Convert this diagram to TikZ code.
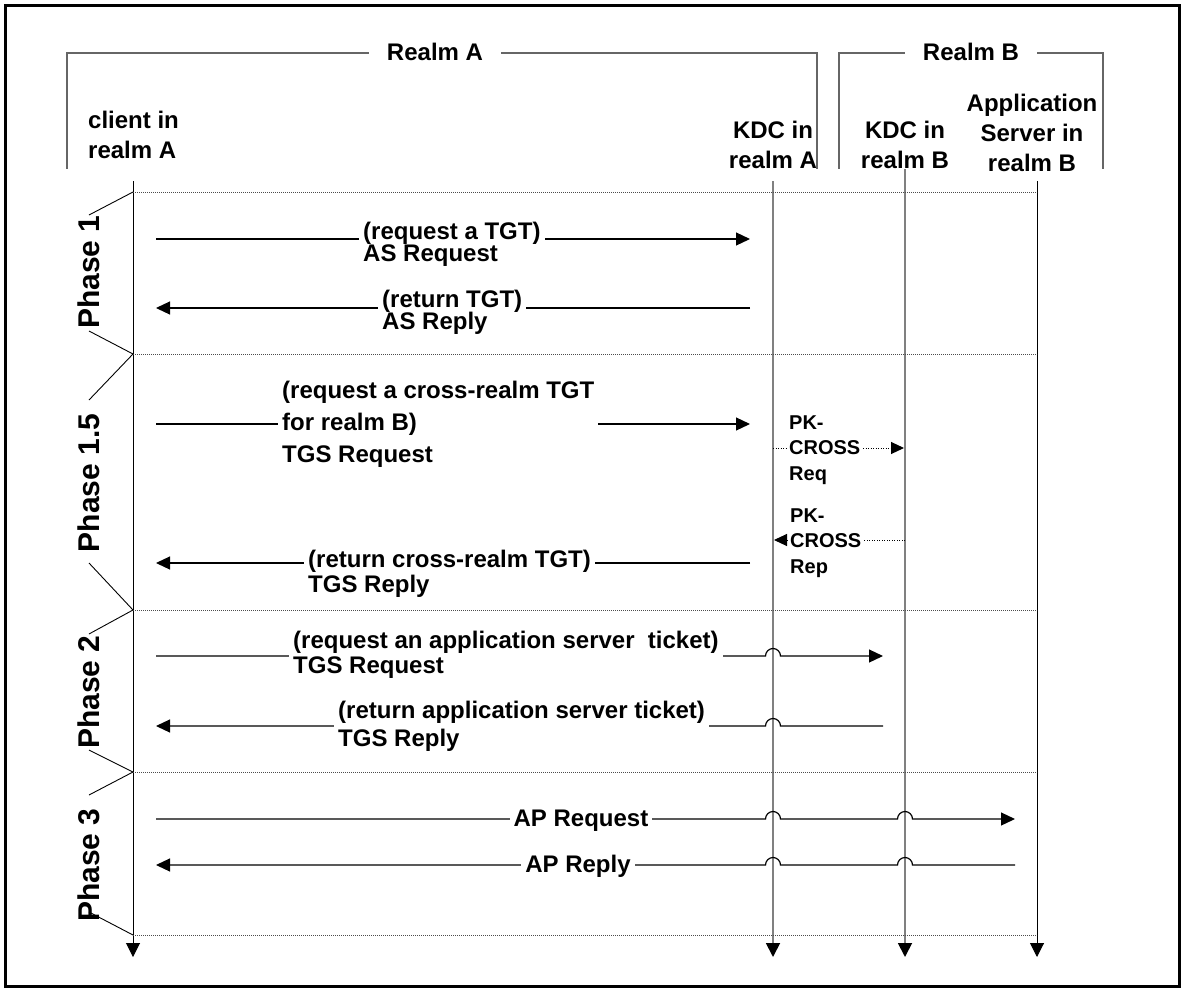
\documentclass[tikz,border=0pt]{standalone}
\usepackage{fontspec}
\setmainfont{Liberation Sans}
\usetikzlibrary{arrows.meta,calc}
\newcommand\strA{\vrule width 0pt height 20bp depth 6bp\relax}
\newcommand\strB{\vrule width 0pt height 17bp depth 5bp\relax}
\newcommand\tightls{\lineskiplimit=-100pt\relax}
\begin{document}
\begin{tikzpicture}[x=1bp,y=-1bp,
  border/.style={line width=2.5bp},
  realmline/.style={black!60, line width=1.3bp},
  realmlbl/.style={font={\fontsize{24bp}{30bp}\selectfont\bfseries}, inner xsep=18bp, inner ysep=0pt, anchor=center},
  hdr/.style={font={\fontsize{24bp}{30bp}\selectfont\bfseries\tightls}, inner sep=0pt},
  lifeC/.style={line width=1bp, -{Triangle[length=14bp,width=14bp,color=black]}},
  lifeK/.style={draw=black!50, line width=1.8bp, -{Triangle[length=14bp,width=14bp,color=black]}},
  sep/.style={black!70, line width=0.8bp, dash pattern=on 1bp off 1bp},
  brk/.style={line width=0.9bp},
  phase/.style={font={\fontsize{30bp}{30bp}\selectfont\bfseries}, rotate=90, inner sep=0pt, anchor=center},
  msg/.style={line width=1.2bp, -{Triangle[length=14bp,width=13bp]}},
  lbl/.style={font={\fontsize{24bp}{#1}\selectfont\bfseries\tightls}, fill=white, inner xsep=4bp, inner ysep=0pt, align=left, anchor=north west},
  lbl/.default=22bp,
  pk/.style={line width=1bp, dash pattern=on 1bp off 1.5bp, -{Triangle[length=13bp,width=12bp]}},
  pklbl/.style={font={\fontsize{20bp}{25.5bp}\selectfont\bfseries\tightls}, fill=white, inner xsep=2bp, inner ysep=0pt, align=left, anchor=north west}
]
\useasboundingbox (0,0) rectangle (1184,991);
\draw[border] (5.5,5.5) rectangle (1179.5,986.5);

% realm brackets
\node[realmlbl] (rA) at (435,53) {\strA Realm A};
\node[realmlbl] (rB) at (971,53) {\strA Realm B};
\coordinate (rA1) at (67,53);  \coordinate (rA1b) at (67,169);
\coordinate (rA2) at (817,53); \coordinate (rA2b) at (817,169);
\coordinate (rB1) at (839,53); \coordinate (rB1b) at (839,169);
\coordinate (rB2) at (1103,53); \coordinate (rB2b) at (1103,169);
\draw[realmline] (rA.west) -- (rA1) -- (rA1b);
\draw[realmline] (rA.east) -- (rA2) -- (rA2b);
\draw[realmline] (rB.west) -- (rB1) -- (rB1b);
\draw[realmline] (rB.east) -- (rB2) -- (rB2b);

% lifelines
\coordinate (cl-t) at (133,181); \coordinate (cl-b) at (133,957);
\coordinate (ka-t) at (773,181); \coordinate (ka-b) at (773,957);
\coordinate (kb-t) at (905,169); \coordinate (kb-b) at (905,957);
\coordinate (ap-t) at (1037,181); \coordinate (ap-b) at (1037,957);
\draw[lifeC] (cl-t) -- (cl-b);
\draw[lifeK] (ka-t) -- (ka-b);
\draw[lifeK] (kb-t) -- (kb-b);
\draw[lifeC] (ap-t) -- (ap-b);

% separators
\foreach \i/\y in {1/192,2/354,3/610,4/772,5/935}{
  \coordinate (s\i) at (133,\y);
  \coordinate (e\i) at (1037,\y);
  \draw[sep] (s\i) -- (e\i);
}

% phase brackets
\coordinate (b1a) at (89,215); \coordinate (b1b) at (89,331);
\coordinate (b2a) at (89,400); \coordinate (b2b) at (89,563);
\coordinate (b3a) at (89,634); \coordinate (b3b) at (89,750);
\coordinate (b4a) at (89,795); \coordinate (b4b) at (89,912);
\draw[brk] (s1) -- (b1a); \draw[brk] (s2) -- (b1b);
\draw[brk] (s2) -- (b2a); \draw[brk] (s3) -- (b2b);
\draw[brk] (s3) -- (b3a); \draw[brk] (s4) -- (b3b);
\draw[brk] (s4) -- (b4a); \draw[brk] (s5) -- (b4b);

% phase labels
\node[phase] (p1) at (89,272) {Phase 1};
\node[phase] (p15) at (89,483) {Phase 1.5};
\node[phase] (p2) at (89,692) {Phase 2};
\node[phase] (p3) at (89,865) {Phase 3};

% headers
\node[hdr, align=left, anchor=north west] (client) at (88,108) {\strA client in\\\strA realm A};
\node[hdr, align=center, anchor=north] (kdca) at (773,118) {\strA KDC in\\\strA realm A};
\node[hdr, align=center, anchor=north] (kdcb) at (905,118) {\strA KDC in\\\strA realm B};
\node[hdr, align=center, anchor=north] (app) at (1032,91) {\strA Application\\\strA Server in\\\strA realm B};

% messages
\coordinate (m1a) at (156,239); \coordinate (m1b) at (750,239);
\coordinate (m2a) at (750,308); \coordinate (m2b) at (156,308);
\coordinate (m3a) at (156,424); \coordinate (m3b) at (750,424);
\coordinate (m6a) at (750,563); \coordinate (m6b) at (156,563);
\coordinate (m7a) at (156,656); \coordinate (m7b) at (883,656);
\coordinate (m8a) at (883,726); \coordinate (m8b) at (156,726);
\coordinate (m9a) at (156,819); \coordinate (m9b) at (1015,819);
\coordinate (m10a) at (1015,865); \coordinate (m10b) at (156,865);
\coordinate (pqa) at (773,448); \coordinate (pqb) at (904,448);
\coordinate (pra) at (905,540); \coordinate (prb) at (774,540);

\draw[msg] (m1a) -- (m1b);
\draw[msg] (m2a) -- (m2b);
\draw[msg] (m3a) -- (m3b);
\draw[msg] (m6a) -- (m6b);
\draw[msg] (m7a) -- ($(ka-t |- m7a)+(-7.5,0)$) arc[start angle=180,end angle=0,radius=7.5bp] -- (m7b);
\draw[msg] (m8a) -- ($(ka-t |- m8a)+(7.5,0)$) arc[start angle=0,end angle=180,radius=7.5bp] -- (m8b);
\draw[msg] (m9a) -- ($(ka-t |- m9a)+(-7.5,0)$) arc[start angle=180,end angle=0,radius=7.5bp]
  -- ($(kb-t |- m9a)+(-7.5,0)$) arc[start angle=180,end angle=0,radius=7.5bp] -- (m9b);
\draw[msg] (m10a) -- ($(kb-t |- m10a)+(7.5,0)$) arc[start angle=0,end angle=180,radius=7.5bp]
  -- ($(ka-t |- m10a)+(7.5,0)$) arc[start angle=0,end angle=180,radius=7.5bp] -- (m10b);
\draw[pk] (pqa) -- (pqb);
\draw[pk] (pra) -- (prb);

% message labels
\node[lbl] (l1) at (359,219) {\strA (request a TGT)\\\strA AS Request};
\node[lbl] (l2) at (378,287) {\strA (return TGT)\\\strA AS Reply};
\node[lbl=32bp] (l3) at (278,378) {\strA (request a cross-realm TGT\\\strA for realm B)\\\strA TGS Request};
\node[lbl=25bp] (l6) at (304,547) {\strA (return cross-realm TGT)\\\strA TGS Reply};
\node[lbl=25bp] (l7) at (289,628) {\strA (request an application server\ \ ticket)\\\strA TGS Request};
\node[lbl=28bp] (l8) at (334,698) {\strA (return application server ticket)\\\strA TGS Reply};
\node[lbl, anchor=north] (l9) at (581,806) {\strA AP Request};
\node[lbl, anchor=north] (l10) at (578,852) {\strA AP Reply};
\node[pklbl] (pq) at (787,412) {\strB PK-\\\strB CROSS\\\strB Req};
\node[pklbl] (pr) at (788,505) {\strB PK-\\\strB CROSS\\\strB Rep};
\end{tikzpicture}
\end{document}
